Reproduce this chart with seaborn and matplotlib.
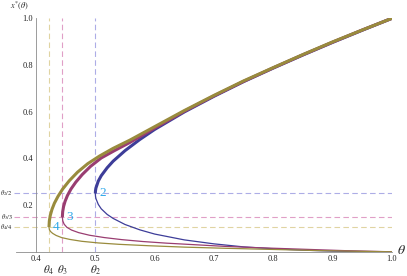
import matplotlib
matplotlib.use("Agg")
import matplotlib.pyplot as plt
from matplotlib.ticker import MultipleLocator
import seaborn as sns

# values
theta2 = [0.5, 0.5003, 0.501, 0.505, 0.51, 0.52, 0.53, 0.55, 0.575, 0.6, 0.65, 0.7, 0.75, 0.8, 0.85, 0.9, 0.95, 1.0]
x2_upper = [0.25, 0.262, 0.273, 0.303, 0.326, 0.36, 0.388, 0.433, 0.481, 0.524, 0.599, 0.666, 0.729, 0.787, 0.843, 0.897, 0.949, 1.0]
x2_lower = [0.25, 0.238, 0.228, 0.203, 0.184, 0.16, 0.143, 0.117, 0.094, 0.076, 0.051, 0.034, 0.021, 0.013, 0.007, 0.003, 0.001, 0.0]

theta3_upper = [0.4444, 0.4450, 0.4465, 0.4490, 0.4530, 0.4590, 0.4670, 0.4780, 0.4920, 0.510, 0.532, 0.558, 0.60, 0.65, 0.70, 0.75, 0.80, 0.85, 0.90, 0.95, 1.0]
x3_upper = [0.148, 0.172, 0.194, 0.216, 0.241, 0.269, 0.298, 0.331, 0.366, 0.402, 0.433, 0.468, 0.530, 0.602, 0.668, 0.730, 0.788, 0.844, 0.898, 0.950, 1.0]
theta3_lower = [0.4444, 0.4452, 0.4475, 0.4520, 0.4600, 0.4720, 0.4900, 0.515, 0.545, 0.58, 0.62, 0.67, 0.72, 0.78, 0.85, 0.92, 1.0]
x3_lower = [0.148, 0.132, 0.118, 0.105, 0.093, 0.082, 0.071, 0.061, 0.052, 0.044, 0.037, 0.030, 0.023, 0.017, 0.011, 0.005, 0.0]

theta4_upper = [0.4219, 0.4225, 0.4240, 0.4270, 0.4310, 0.4370, 0.4450, 0.4560, 0.4700, 0.4870, 0.5070, 0.530, 0.558, 0.60, 0.65, 0.70, 0.75, 0.80, 0.85, 0.90, 0.95, 1.0]
x4_upper = [0.1055, 0.132, 0.155, 0.182, 0.208, 0.237, 0.269, 0.304, 0.341, 0.377, 0.410, 0.443, 0.478, 0.536, 0.605, 0.670, 0.732, 0.789, 0.845, 0.899, 0.950, 1.0]
theta4_lower = [0.4219, 0.4226, 0.4245, 0.4280, 0.4340, 0.4430, 0.4570, 0.4770, 0.505, 0.54, 0.59, 0.65, 0.72, 0.80, 0.88, 0.95, 1.0]
x4_lower = [0.1055, 0.095, 0.087, 0.079, 0.070, 0.061, 0.053, 0.045, 0.038, 0.032, 0.026, 0.020, 0.015, 0.010, 0.005, 0.002, 0.0]

# fold points theta_n and theta_n / n
curve_names = ["2", "3", "4"]
theta_fold = [0.5, 0.4444, 0.4219]
x_fold = [0.25, 0.1481, 0.1055]
theta_fold_labels = [r"$\theta_2$", r"$\theta_3$", r"$\theta_4$"]
x_fold_labels = [r"$\theta_2/2$", r"$\theta_3/3$", r"$\theta_4/4$"]

x_ticks = [0.4, 0.5, 0.6, 0.7, 0.8, 0.9, 1.0]
x_tick_labels = ["0.4", "0.5", "0.6", "0.7", "0.8", "0.9", "1.0"]
y_ticks = [0.2, 0.4, 0.6, 0.8, 1.0]
y_tick_labels = ["0.2", "0.4", "0.6", "0.8", "1.0"]

colors = ["#3D3D99", "#993D71", "#998B3D"]
light_colors = ["#ADADE6", "#E09FC7", "#E0D4A2"]
label_color = "#2EA8EA"

sns.set_style("white")
plt.rcParams["font.family"] = ["Liberation Serif", "DejaVu Serif"]
plt.rcParams["mathtext.fontset"] = "stix"

fig = plt.figure(figsize=(4.07, 2.76), dpi=100)
ax = fig.add_axes([13.5 / 407, (276 - 251.8) / 276, (392 - 13.5) / 407, (251.8 - 18.3) / 276])
ax.set_xlim(0.3621, 1.0)
ax.set_ylim(0, 1.0)

# guide lines
for th, xf, lc in zip(theta_fold, x_fold, light_colors):
    h = ax.hlines(xf, 0.3621, 1.0, colors=lc, linewidth=0.8, linestyles=[(0, (5, 3))], zorder=1)
    v = ax.vlines(th, 0, 1.0, colors=lc, linewidth=0.8, linestyles=[(0, (5, 3))], zorder=1)
    h.set_snap(True)
    v.set_snap(True)

branches = [
    (theta2, x2_upper, theta2, x2_lower),
    (theta3_upper, x3_upper, theta3_lower, x3_lower),
    (theta4_upper, x4_upper, theta4_lower, x4_lower),
]
for (tu, xu, tl, xl), c in zip(branches, colors):
    sns.lineplot(x=tl, y=xl, sort=False, estimator=None, color=c, linewidth=0.9, ax=ax, zorder=3)
    sns.lineplot(x=tu, y=xu, sort=False, estimator=None, color=c, linewidth=2.2, ax=ax, zorder=3,
                 solid_capstyle="butt")

# curve labels next to the folds
for name, th, xf in zip(curve_names, theta_fold, x_fold):
    ax.annotate(name, (th, xf), xytext=(5.4, 0), textcoords="offset points", ha="center", va="center",
                fontsize=9.5, color=label_color, zorder=5)

# theta_n under the axis, theta_n/n at the left
for lab, th in zip(theta_fold_labels, theta_fold):
    ax.annotate(lab, (th, 0), xytext=(0, -13.5), textcoords="offset points", ha="center", va="center",
                fontsize=8, annotation_clip=False)
for lab, xf in zip(x_fold_labels, x_fold):
    ax.annotate(lab, (0.3621, xf), xytext=(-0.5, 0), textcoords="offset points", ha="right", va="center",
                fontsize=4.6, annotation_clip=False)

# axes
for s in ["top", "right"]:
    ax.spines[s].set_visible(False)
ax.spines["left"].set_position(("data", 0.4))
ax.spines["bottom"].set_bounds(0.367, 1.0)
ax.spines["left"].set_bounds(0, 1.0)
for s in ["left", "bottom"]:
    ax.spines[s].set_color("#8C8C8C")
    ax.spines[s].set_linewidth(0.6)

ax.set_xticks(x_ticks)
ax.set_xticklabels(x_tick_labels)
ax.set_yticks(y_ticks)
ax.set_yticklabels(y_tick_labels)
ax.xaxis.set_minor_locator(MultipleLocator(0.02))
ax.yaxis.set_minor_locator(MultipleLocator(0.05))
ax.tick_params(which="major", direction="in", length=3, width=0.5, color="#8C8C8C",
               labelsize=6, pad=2, labelcolor="#222222")
ax.tick_params(which="minor", direction="in", length=1.6, width=0.4, color="#8C8C8C")
ax.set_xlabel("")
ax.set_ylabel("")

ax.text(1.016, 0.006, r"$\theta$", fontsize=10, ha="center", va="center", clip_on=False)
ax.text(0.372, 1.053, r"$x^{*}(\theta)$", fontsize=6, ha="center", va="center", clip_on=False)

fig.savefig("out.png", dpi=100)
